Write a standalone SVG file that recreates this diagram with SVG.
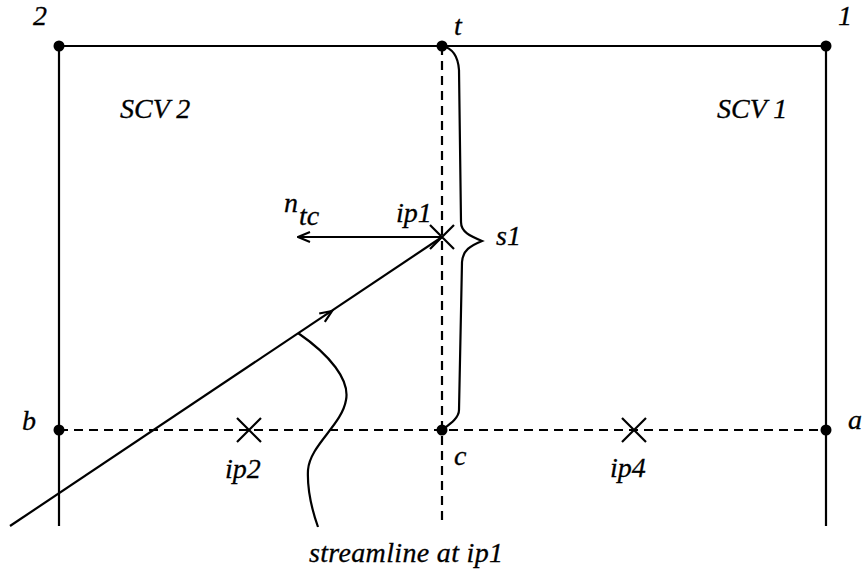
<svg xmlns="http://www.w3.org/2000/svg" width="862" height="573" viewBox="0 0 862 573">
<style>
.t{font-family:"Liberation Serif","Times New Roman",serif;font-style:italic;font-size:28px;fill:#000;stroke:#000;stroke-width:0.3}
.s{stroke:#000;stroke-width:2.2;fill:none}
.d{stroke:#000;stroke-width:2.2;fill:none;stroke-dasharray:9 6}
.x{stroke:#000;stroke-width:2.2;fill:none}
.dot{fill:#000}
</style>
<defs>
<marker id="open" viewBox="0 0 14 12" refX="13" refY="6" markerWidth="14" markerHeight="12" markerUnits="userSpaceOnUse" orient="auto">
<path d="M1,1 L13,6 L1,11" fill="none" stroke="#000" stroke-width="2"/>
</marker>
</defs>
<g id="connectors">
<line class="s" x1="59" y1="46" x2="826" y2="46"/>
<line class="s" x1="59" y1="46" x2="59" y2="526"/>
<line class="s" x1="826" y1="46" x2="826" y2="526"/>
<line class="d" x1="442" y1="46" x2="442" y2="526"/>
<line class="d" x1="59" y1="430" x2="826" y2="430"/>
<line class="s" x1="10" y1="526" x2="442" y2="237"/>
<path class="s" d="M324.8,321.8 L332,311 L319.2,313.5"/>
<path class="s" d="M298,333 C330,355 350,380 346,400 C342,425 310,445 308,470 C307,490 312,510 318,527"/>
<line class="s" x1="442" y1="237" x2="298" y2="237" marker-end="url(#open)"/>
<path class="s" d="M442,46 C452,48 458,55 459,70 L461,222 C461,232 470,236 482,241 C470,246 463,250 462,262 L459,410 C459,418 450,424 442,430"/>
</g>
<g id="node-2"><circle class="dot" cx="59" cy="46" r="5.5"/><text class="t" x="33" y="25">2</text></g>
<g id="node-t"><circle class="dot" cx="442" cy="46" r="5.5"/><text class="t" x="454" y="35">t</text></g>
<g id="node-1"><circle class="dot" cx="826" cy="46" r="5.5"/><text class="t" x="838" y="25">1</text></g>
<g id="node-b"><circle class="dot" cx="59" cy="430" r="5.5"/><text class="t" x="22" y="430">b</text></g>
<g id="node-c"><circle class="dot" cx="442" cy="430" r="5.5"/><text class="t" x="454" y="465">c</text></g>
<g id="node-a"><circle class="dot" cx="826" cy="430" r="5.5"/><text class="t" x="848" y="429">a</text></g>
<g id="ip1"><path class="x" d="M430,225 L454,249 M454,225 L430,249"/><text class="t" x="396" y="222">ip1</text></g>
<g id="ip2"><path class="x" d="M237,418 L261,442 M261,418 L237,442"/><text class="t" x="225" y="478">ip2</text></g>
<g id="ip4"><path class="x" d="M622,418 L646,442 M646,418 L622,442"/><text class="t" x="610" y="477">ip4</text></g>
<g id="label-scv2"><text class="t" x="120" y="118">SCV 2</text></g>
<g id="label-scv1"><text class="t" x="717" y="118">SCV 1</text></g>
<g id="label-ntc"><text class="t" x="284" y="212">n</text><text class="t" x="299" y="225">tc</text></g>
<g id="label-s1"><text class="t" x="496" y="245">s1</text></g>
<g id="label-streamline"><text class="t" x="309" y="562" textLength="194" lengthAdjust="spacing">streamline at ip1</text></g>
</svg>
